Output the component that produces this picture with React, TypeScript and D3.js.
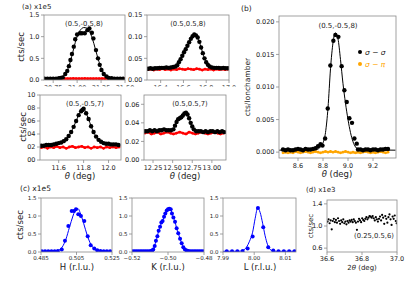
import * as d3 from 'd3';

type P = [number, number];

// ---- (a) diffraction peaks, x1e5 cts/sec ----
const a1Black: P[] = [
  [30.66, 0.03], [30.69, 0.03], [30.72, 0.03], [30.75, 0.03], [30.78, 0.03], [30.81, 0.04], [30.83, 0.05],
  [30.85, 0.06], [30.876, 0.14], [30.897, 0.21], [30.914, 0.32], [30.93, 0.46], [30.946, 0.6], [30.965, 0.77],
  [30.98, 0.94], [31.0, 1.05], [31.03, 1.08], [31.05, 1.08], [31.08, 1.08], [31.107, 1.15], [31.128, 1.19],
  [31.154, 1.09], [31.17, 0.96], [31.197, 0.69], [31.218, 0.5], [31.236, 0.35], [31.254, 0.23], [31.278, 0.14],
  [31.307, 0.08], [31.33, 0.05], [31.36, 0.04], [31.39, 0.03], [31.42, 0.03], [31.45, 0.03], [31.48, 0.03],
];
const a1Fit: P[] = [
  [30.65, 0.02], [30.78, 0.025], [30.83, 0.05], [30.86, 0.1], [30.89, 0.19], [30.92, 0.36], [30.95, 0.6],
  [30.98, 0.86], [31.01, 1.06], [31.04, 1.17], [31.07, 1.21], [31.1, 1.2], [31.13, 1.12], [31.16, 0.95],
  [31.19, 0.72], [31.22, 0.48], [31.25, 0.28], [31.28, 0.15], [31.31, 0.08], [31.35, 0.04], [31.4, 0.025], [31.5, 0.02],
];
const a1Red: P[] = [
  [30.66, 0.03], [30.69, 0.032], [30.72, 0.029], [30.75, 0.031], [30.78, 0.033], [30.81, 0.03], [30.84, 0.032],
  [30.87, 0.034], [30.9, 0.031], [30.93, 0.033], [30.96, 0.035], [30.99, 0.032], [31.02, 0.034], [31.05, 0.033],
  [31.08, 0.035], [31.11, 0.032], [31.14, 0.034], [31.17, 0.031], [31.2, 0.033], [31.23, 0.03], [31.26, 0.032],
  [31.29, 0.03], [31.32, 0.031], [31.35, 0.029], [31.38, 0.031], [31.41, 0.03], [31.44, 0.029], [31.47, 0.03], [31.49, 0.03],
];

const a2Black: P[] = [
  [16.29, 0.026], [16.31, 0.027], [16.33, 0.026], [16.35, 0.027], [16.37, 0.027], [16.39, 0.028], [16.41, 0.028],
  [16.43, 0.028], [16.45, 0.029], [16.47, 0.028], [16.49, 0.029], [16.51, 0.03], [16.53, 0.031], [16.545, 0.034],
  [16.56, 0.041], [16.575, 0.048], [16.59, 0.056], [16.605, 0.064], [16.62, 0.071], [16.635, 0.079], [16.65, 0.087],
  [16.665, 0.095], [16.68, 0.101], [16.695, 0.105], [16.71, 0.103], [16.725, 0.098], [16.74, 0.088], [16.755, 0.075],
  [16.77, 0.062], [16.785, 0.05], [16.8, 0.041], [16.815, 0.035], [16.83, 0.031], [16.85, 0.029], [16.87, 0.028],
  [16.89, 0.028], [16.91, 0.028], [16.93, 0.027], [16.95, 0.028], [16.97, 0.027], [16.99, 0.027],
];
const a2Red: P[] = [
  [16.29, 0.024], [16.315, 0.025], [16.34, 0.023], [16.365, 0.025], [16.39, 0.024], [16.415, 0.026], [16.44, 0.024],
  [16.465, 0.025], [16.49, 0.023], [16.515, 0.025], [16.54, 0.024], [16.565, 0.026], [16.59, 0.025], [16.615, 0.024],
  [16.64, 0.026], [16.665, 0.025], [16.69, 0.024], [16.715, 0.026], [16.74, 0.025], [16.765, 0.023], [16.79, 0.025],
  [16.815, 0.024], [16.84, 0.025], [16.865, 0.023], [16.89, 0.025], [16.915, 0.024], [16.94, 0.025], [16.965, 0.024], [16.99, 0.025],
];

const a3Black: P[] = [
  [11.46, 0.022], [11.48, 0.022], [11.5, 0.023], [11.52, 0.023], [11.54, 0.023], [11.56, 0.024], [11.58, 0.025],
  [11.6, 0.026], [11.62, 0.027], [11.64, 0.029], [11.66, 0.032], [11.68, 0.037], [11.7, 0.043], [11.72, 0.051],
  [11.74, 0.06], [11.76, 0.069], [11.78, 0.075], [11.79, 0.077], [11.8, 0.079], [11.82, 0.072], [11.84, 0.063],
  [11.86, 0.052], [11.88, 0.043], [11.9, 0.036], [11.92, 0.031], [11.94, 0.028], [11.96, 0.026], [11.98, 0.025],
  [12.0, 0.025], [12.02, 0.024], [12.04, 0.024], [12.06, 0.024], [12.08, 0.023],
];
const a3Red: P[] = [
  [11.46, 0.019], [11.485, 0.02], [11.51, 0.018], [11.535, 0.02], [11.56, 0.019], [11.585, 0.021], [11.61, 0.019],
  [11.635, 0.02], [11.66, 0.018], [11.685, 0.02], [11.71, 0.021], [11.735, 0.019], [11.76, 0.02], [11.785, 0.021],
  [11.81, 0.019], [11.835, 0.02], [11.86, 0.018], [11.885, 0.02], [11.91, 0.019], [11.935, 0.02], [11.96, 0.018],
  [11.985, 0.02], [12.01, 0.019], [12.035, 0.02], [12.06, 0.019], [12.085, 0.02],
];

const a4Black: P[] = [
  [12.15, 0.031], [12.18, 0.031], [12.21, 0.032], [12.24, 0.031], [12.27, 0.032], [12.3, 0.031], [12.33, 0.032],
  [12.36, 0.032], [12.39, 0.033], [12.42, 0.032], [12.45, 0.032], [12.48, 0.032], [12.51, 0.033], [12.53, 0.037],
  [12.55, 0.041], [12.57, 0.044], [12.59, 0.045], [12.61, 0.046], [12.63, 0.048], [12.65, 0.05], [12.67, 0.051],
  [12.69, 0.049], [12.71, 0.045], [12.73, 0.04], [12.75, 0.036], [12.77, 0.033], [12.8, 0.031], [12.83, 0.031],
  [12.86, 0.031], [12.89, 0.03], [12.92, 0.031], [12.95, 0.03], [12.98, 0.031], [13.01, 0.031], [13.04, 0.03],
  [13.07, 0.031], [13.1, 0.03], [13.13, 0.031], [13.16, 0.03],
];
const a4Red: P[] = [
  [12.15, 0.029], [12.19, 0.03], [12.23, 0.028], [12.27, 0.029], [12.31, 0.03], [12.35, 0.028], [12.39, 0.029],
  [12.43, 0.03], [12.47, 0.029], [12.51, 0.028], [12.55, 0.029], [12.59, 0.03], [12.63, 0.029], [12.67, 0.028],
  [12.71, 0.03], [12.75, 0.029], [12.79, 0.028], [12.83, 0.029], [12.87, 0.03], [12.91, 0.029], [12.95, 0.028],
  [12.99, 0.029], [13.03, 0.03], [13.07, 0.029], [13.11, 0.028], [13.15, 0.029],
];

// ---- (b) polarization analysis ----
const bSigma: P[] = [
  [8.48, 0.0004], [8.5, 0.0003], [8.52, 0.0004], [8.54, 0.0003], [8.56, 0.0003], [8.58, 0.0004], [8.6, 0.0005],
  [8.62, 0.0004], [8.64, 0.0003], [8.66, 0.0005], [8.68, 0.0004], [8.7, 0.0004], [8.72, 0.0005], [8.74, 0.0006],
  [8.76, 0.0009], [8.78, 0.0012], [8.796, 0.001], [8.817, 0.0021], [8.838, 0.0067], [8.859, 0.0133], [8.883, 0.0171],
  [8.899, 0.018], [8.923, 0.0177], [8.949, 0.0132], [8.971, 0.0095], [8.99, 0.0077], [9.011, 0.0052], [9.032, 0.0045],
  [9.051, 0.0021], [9.07, 0.0013], [9.08, 0.0004], [9.1, 0.0004], [9.12, 0.0003], [9.14, 0.0004], [9.16, 0.0004],
  [9.18, 0.0003], [9.2, 0.0004], [9.22, 0.0004], [9.24, 0.0003], [9.26, 0.0004], [9.28, 0.0004], [9.3, 0.0005], [9.32, 0.0005],
];
const bFit: P[] = [
  [8.45, 0.0003], [8.7, 0.0003], [8.75, 0.0004], [8.78, 0.0008], [8.8, 0.0014], [8.82, 0.003], [8.84, 0.0068],
  [8.86, 0.0128], [8.88, 0.0168], [8.9, 0.0183], [8.92, 0.0174], [8.94, 0.0142], [8.96, 0.0105], [8.98, 0.0075],
  [9.0, 0.005], [9.02, 0.003], [9.04, 0.0016], [9.06, 0.0008], [9.09, 0.0004], [9.38, 0.0003],
];
const bPi: P[] = [
  [8.48, -0.0001], [8.5, 0], [8.52, -0.0001], [8.54, 0], [8.56, -0.0001], [8.58, 0.0001], [8.6, 0], [8.62, -0.0001],
  [8.64, 0], [8.66, 0.0001], [8.68, 0], [8.7, -0.0001], [8.72, 0], [8.74, 0.0001], [8.76, 0], [8.78, -0.0001],
  [8.8, 0], [8.82, 0.0001], [8.84, 0], [8.86, 0.0001], [8.88, 0], [8.9, 0.0001], [8.92, 0], [8.94, -0.0001],
  [8.96, 0], [8.98, 0.0001], [9.0, 0], [9.02, -0.0001], [9.04, 0], [9.06, -0.0001], [9.08, 0], [9.1, -0.0001],
  [9.12, 0], [9.14, 0.0001], [9.16, 0], [9.18, -0.0001], [9.2, 0], [9.22, -0.0001], [9.24, 0], [9.26, 0.0001],
  [9.28, 0], [9.3, -0.0001], [9.32, 0],
];

// ---- (c) H, K, L scans, x1e5 ----
const cH: P[] = [
  [0.4855, 0.02], [0.4873, 0.02], [0.4891, 0.02], [0.4909, 0.02], [0.4927, 0.02], [0.4945, 0.03], [0.4967, 0.07],
  [0.4985, 0.31], [0.5004, 0.72], [0.5023, 1.14], [0.5036, 1.14], [0.5047, 1.19], [0.506, 1.05], [0.5075, 1.0],
  [0.5094, 0.86], [0.5113, 0.44], [0.513, 0.19], [0.515, 0.1], [0.5167, 0.05], [0.5185, 0.03], [0.5203, 0.02],
  [0.5221, 0.02], [0.5239, 0.02],
];
const cHFit: P[] = [
  [0.485, 0.02], [0.493, 0.02], [0.495, 0.05], [0.497, 0.14], [0.499, 0.35], [0.501, 0.68], [0.503, 1.0],
  [0.504, 1.13], [0.505, 1.21], [0.506, 1.2], [0.507, 1.1], [0.509, 0.8], [0.511, 0.47], [0.513, 0.22],
  [0.515, 0.09], [0.517, 0.04], [0.519, 0.02], [0.525, 0.02],
];
const cK: P[] = [
  [-0.5195, 0.02], [-0.5185, 0.02], [-0.5175, 0.02], [-0.5165, 0.02], [-0.5155, 0.02], [-0.5145, 0.02],
  [-0.5135, 0.02], [-0.5125, 0.02], [-0.5115, 0.02], [-0.5105, 0.02], [-0.5095, 0.03], [-0.5088, 0.04],
  [-0.5082, 0.07], [-0.5074, 0.17], [-0.5067, 0.31], [-0.5059, 0.44], [-0.5052, 0.59], [-0.5044, 0.7],
  [-0.5037, 0.82], [-0.503, 0.86], [-0.5022, 0.98], [-0.5015, 1.07], [-0.5007, 1.15], [-0.5, 1.19],
  [-0.4993, 1.2], [-0.4985, 1.19], [-0.4978, 1.07], [-0.497, 0.96], [-0.4961, 0.84], [-0.4952, 0.66],
  [-0.4943, 0.52], [-0.4933, 0.37], [-0.4924, 0.24], [-0.4915, 0.13], [-0.4906, 0.07], [-0.4896, 0.04],
  [-0.4886, 0.03], [-0.4875, 0.02], [-0.4865, 0.02], [-0.4855, 0.02], [-0.4845, 0.02], [-0.4835, 0.02],
  [-0.4825, 0.02], [-0.4815, 0.02], [-0.4805, 0.02],
];
const cL: P[] = [
  [7.9912, 0.02], [7.9929, 0.02], [7.9946, 0.02], [7.9963, 0.03], [7.9979, 0.1], [7.9995, 0.43], [8.0012, 1.22],
  [8.0029, 0.69], [8.0045, 0.13], [8.0061, 0.04], [8.0078, 0.02], [8.0095, 0.02], [8.0112, 0.02], [8.0129, 0.02],
];
const cLFit: P[] = [
  [7.99, 0.02], [7.995, 0.02], [7.9965, 0.05], [7.9975, 0.13], [7.9985, 0.3], [7.9995, 0.55], [8.0003, 0.93],
  [8.0011, 1.22], [8.0019, 1.1], [8.0027, 0.8], [8.0035, 0.45], [8.0043, 0.2], [8.0051, 0.07], [8.006, 0.03],
  [8.007, 0.02], [8.0134, 0.02],
];

// ---- (d) 2theta scan, x1e3 ----
const dScan: P[] = [
  [36.603, 1.08], [36.609, 1.12], [36.615, 1.05], [36.621, 1.1], [36.627, 0.94], [36.633, 1.09], [36.639, 1.13],
  [36.645, 1.07], [36.651, 1.11], [36.657, 1.06], [36.663, 1.14], [36.669, 1.09], [36.675, 1.04], [36.681, 1.1],
  [36.687, 1.07], [36.693, 1.12], [36.699, 1.05], [36.705, 1.08], [36.711, 1.03], [36.717, 1.09], [36.723, 1.06],
  [36.729, 1.1], [36.735, 1.08], [36.741, 1.11], [36.747, 1.07], [36.753, 1.12], [36.759, 1.09], [36.765, 1.06],
  [36.771, 0.93], [36.777, 1.08], [36.783, 1.13], [36.789, 1.1], [36.795, 1.07], [36.801, 1.14], [36.807, 1.11],
  [36.813, 1.09], [36.819, 1.13], [36.825, 1.16], [36.831, 1.12], [36.837, 1.15], [36.843, 1.18], [36.849, 1.17],
  [36.855, 1.15], [36.861, 1.18], [36.867, 1.14], [36.873, 1.1], [36.879, 1.16], [36.885, 1.12], [36.891, 1.08],
  [36.897, 1.13], [36.903, 1.17], [36.909, 1.1], [36.915, 1.2], [36.921, 1.15], [36.927, 1.04], [36.933, 1.18],
  [36.939, 1.13], [36.945, 1.06], [36.951, 1.16], [36.957, 1.21], [36.963, 1.12], [36.969, 1.02], [36.975, 1.17],
  [36.981, 1.13], [36.987, 1.19], [36.993, 1.09], [36.998, 1.05],
];

const FONT = 'DejaVu Sans, sans-serif';
const SPINE = '#8a8a8a';
const TXT = '#222';
const RED = '#ff0000';
const ORANGE = '#ffa500';
const BLUE = '#0000ff';

interface Dots { pts: P[]; color: string; r: number }
interface Line { pts: P[]; color: string; lw: number; curve?: d3.CurveFactory }

interface PanelProps {
  box: [number, number, number, number];
  xd: [number, number];
  yd: [number, number];
  xt: number[];
  xf: (v: number) => string;
  yt: number[];
  yl: string[];
  fs: number;
  xOff?: number;
  labelClip?: number;
  lines: Line[];
  dots: Dots[];
}

const Panel = ({ box, xd, yd, xt, xf, yt, yl, fs, xOff = 8, labelClip, lines, dots }: PanelProps) => {
  const [L, T, W, H] = box;
  const x = d3.scaleLinear().domain(xd).range([L, L + W]);
  const y = d3.scaleLinear().domain(yd).range([T + H, T]);
  const id = `clip${L}_${T}`;
  const lid = `lclip${L}_${T}`;
  return (
    <g>
      <defs>
        <clipPath id={id}><rect x={L} y={T} width={W} height={H} /></clipPath>
        {labelClip && <clipPath id={lid}><rect x={L - 30} y={T} width={W + 60} height={labelClip - T} /></clipPath>}
      </defs>
      <rect x={L} y={T} width={W} height={H} fill="white" />
      <g clipPath={`url(#${id})`}>
        {lines.map((s, i) => {
          const gen = d3.line<P>().x(d => x(d[0])).y(d => y(d[1])).curve(s.curve ?? d3.curveMonotoneX);
          return <path key={i} d={gen(s.pts) ?? ''} fill="none" stroke={s.color} strokeWidth={s.lw} />;
        })}
        {dots.map((s, i) => (
          <g key={i} fill={s.color}>
            {s.pts.map((p, j) => <circle key={j} cx={x(p[0])} cy={y(p[1])} r={s.r} />)}
          </g>
        ))}
      </g>
      <rect x={L} y={T} width={W} height={H} fill="none" stroke={SPINE} strokeWidth={0.8} />
      {yt.map((v, i) => (
        <g key={i}>
          <line x1={L - 3} x2={L} y1={y(v)} y2={y(v)} stroke={SPINE} strokeWidth={0.8} />
          <text x={L - 4.5} y={y(v)} dy="0.35em" textAnchor="end" fontSize={fs} fill={TXT} fontFamily={FONT}>{yl[i]}</text>
        </g>
      ))}
      <g clipPath={labelClip ? `url(#${lid})` : undefined}>
        {xt.map((v, i) => (
          <g key={i}>
            <line x1={x(v)} x2={x(v)} y1={T + H} y2={T + H + 3} stroke={SPINE} strokeWidth={0.8} />
            <text x={x(v)} y={T + H + xOff} dy="0.35em" textAnchor="middle" fontSize={fs} fill={TXT} fontFamily={FONT}>{xf(v)}</text>
          </g>
        ))}
      </g>
    </g>
  );
};

const T = ({ x, y, s, children, anchor = 'middle', rot, color = TXT }: any) => (
  <text x={x} y={y} fontSize={s} fontFamily={FONT} fill={color} textAnchor={anchor}
    transform={rot ? `rotate(${rot} ${x} ${y})` : undefined}>{children}</text>
);

const f1 = d3.format('.1f');
const f2 = d3.format('.2f');
const f3 = d3.format('.3f');
const theta = <tspan fontStyle="italic">θ</tspan>;
const sig = <tspan fontStyle="italic">σ</tspan>;
const pi = <tspan fontStyle="italic">π</tspan>;

export default function App() {
  return (
    <svg width={415} height={286} style={{ position: 'absolute', left: 0, top: 0, background: 'white' }}>
      {/* (a) */}
      <T x={22} y={9} s={7} anchor="start">(a) x1e5</T>
      <T x={24} y={47} s={8.5} rot={-90}>cts/sec</T>
      <T x={26} y={127} s={8.5} rot={-90}>cts/sec</T>
      <Panel box={[44, 15, 81, 65]} xd={[30.654, 31.5]} yd={[0, 1.5]} xt={[30.75, 31, 31.25, 31.5]} xf={f2}
        yt={[0, 0.5, 1, 1.5]} yl={[0, 0.5, 1, 1.5].map(f1)} fs={6.5} labelClip={86.5}
        lines={[{ pts: a1Red, color: RED, lw: 2.2 }, { pts: a1Fit, color: '#000', lw: 1 }]}
        dots={[{ pts: a1Red, color: RED, r: 1.4 }, { pts: a1Black, color: '#000', r: 2.2 }]} />
      <Panel box={[147, 15, 82, 65]} xd={[16.28, 17.0]} yd={[0, 0.15]} xt={[16.4, 16.6, 16.8, 17.0]} xf={f1}
        yt={[0, 0.05, 0.1, 0.15]} yl={[0, 0.05, 0.1, 0.15].map(f2)} fs={6.5} labelClip={86.5}
        lines={[{ pts: a2Red, color: RED, lw: 2.2 }, { pts: a2Black, color: '#000', lw: 1 }]}
        dots={[{ pts: a2Red, color: RED, r: 1.4 }, { pts: a2Black, color: '#000', r: 2.2 }]} />
      <Panel box={[40, 95, 81, 65]} xd={[11.45, 12.1]} yd={[0, 0.1]} xt={[11.6, 11.8, 12.0]} xf={f1}
        yt={[0, 0.02, 0.04, 0.06, 0.08, 0.1]} yl={['00', '02', '04', '06', '08', '10']} fs={6.5}
        lines={[{ pts: a3Red, color: RED, lw: 2.2 }, { pts: a3Black, color: '#000', lw: 1 }]}
        dots={[{ pts: a3Red, color: RED, r: 1.4 }, { pts: a3Black, color: '#000', r: 2.2 }]} />
      <Panel box={[144, 95, 82, 65]} xd={[12.135, 13.18]} yd={[0, 0.07]} xt={[12.25, 12.5, 12.75, 13]} xf={f2}
        yt={[0, 0.02, 0.04, 0.06]} yl={[0, 0.02, 0.04, 0.06].map(f2)} fs={6.5}
        lines={[{ pts: a4Red, color: RED, lw: 2.2 }, { pts: a4Black, color: '#000', lw: 1 }]}
        dots={[{ pts: a4Red, color: RED, r: 1.4 }, { pts: a4Black, color: '#000', r: 2.2 }]} />
      <T x={84} y={26} s={6.8}>(0.5,-0.5,8)</T>
      <T x={188} y={26} s={6.8}>(0.5,0.5,8)</T>
      <T x={85} y={106} s={6.8}>(0.5,-0.5,7)</T>
      <T x={190} y={106} s={6.8}>(0.5,0.5,7)</T>
      <T x={80} y={179} s={8.5}>{theta} (deg)</T>
      <T x={185} y={179} s={8.5}>{theta} (deg)</T>

      {/* (b) */}
      <T x={241} y={11} s={7.5} anchor="start">(b)</T>
      <T x={250} y={87} s={7.5} rot={-90}>cts/Ionchamber</T>
      <Panel box={[279, 16, 117, 142]} xd={[8.448, 9.384]} yd={[-0.0009, 0.0209]} xt={[8.6, 8.8, 9.0, 9.2]} xf={f1}
        yt={[0, 0.005, 0.01, 0.015, 0.02]} yl={[0, 0.005, 0.01, 0.015, 0.02].map(f3)} fs={6.5}
        lines={[{ pts: bPi, color: ORANGE, lw: 2 }, { pts: bFit, color: '#000', lw: 1 }]}
        dots={[{ pts: bPi, color: ORANGE, r: 1.4 }, { pts: bSigma, color: '#000', r: 2.2 }]} />
      <T x={338} y={28} s={7}>(0.5,-0.5,8)</T>
      <circle cx={360} cy={52} r={2} fill="#000" />
      <T x={365} y={55} s={7.5} anchor="start">{sig} − {sig}</T>
      <circle cx={360} cy={64} r={2} fill={ORANGE} />
      <T x={365} y={67} s={7.5} anchor="start" color={ORANGE}>{sig} − {pi}</T>
      <T x={337} y={177} s={8.5}>{theta} (deg)</T>

      {/* (c) */}
      <T x={20} y={191} s={7.5} anchor="start">(c) x1e5</T>
      <T x={23} y={225} s={8.5} rot={-90}>cts/sec</T>
      <Panel box={[41, 198, 71, 54]} xd={[0.485, 0.525]} yd={[0, 1.5]} xt={[0.485, 0.505, 0.525]} xf={f3}
        yt={[0, 0.5, 1, 1.5]} yl={[0, 0.5, 1, 1.5].map(f1)} fs={5.5} xOff={6.5}
        lines={[{ pts: cHFit, color: BLUE, lw: 1 }]}
        dots={[{ pts: cH, color: BLUE, r: 2 }]} />
      <Panel box={[132, 198, 72, 54]} xd={[-0.52, -0.48]} yd={[0, 1.5]} xt={[-0.52, -0.5, -0.48]} xf={f2}
        yt={[0, 0.5, 1, 1.5]} yl={[0, 0.5, 1, 1.5].map(f1)} fs={5.5} xOff={6.5}
        lines={[{ pts: cK, color: BLUE, lw: 1 }]}
        dots={[{ pts: cK, color: BLUE, r: 2 }]} />
      <Panel box={[223, 198, 73, 54]} xd={[7.99, 8.0134]} yd={[0, 1.5]} xt={[7.99, 8.0, 8.01]} xf={f2}
        yt={[0, 0.5, 1, 1.5]} yl={[0, 0.5, 1, 1.5].map(f1)} fs={5.5} xOff={6.5}
        lines={[{ pts: cLFit, color: BLUE, lw: 1 }]}
        dots={[{ pts: cL, color: BLUE, r: 2 }]} />
      <T x={77} y={270} s={8.5}>H (r.l.u.)</T>
      <T x={168} y={270} s={8.5}>K (r.l.u.)</T>
      <T x={260} y={270} s={8.5}>L (r.l.u.)</T>

      {/* (d) */}
      <T x={306} y={192} s={7} anchor="start">(d) x1e3</T>
      <T x={313} y={226} s={7} rot={-90}>cts/sec</T>
      <Panel box={[327, 200, 70, 52]} xd={[36.6, 37.0]} yd={[0.53, 1.47]} xt={[36.6, 36.8, 37.0]} xf={f1}
        yt={[0.6, 1.0, 1.4]} yl={[0.6, 1.0, 1.4].map(f1)} fs={6.5} xOff={7}
        lines={[]}
        dots={[{ pts: dScan, color: '#000', r: 1.1 }]} />
      <T x={374} y={238} s={6.8}>(0.25,0.5,6)</T>
      <T x={362} y={270} s={7}>2{theta} (deg)</T>
    </svg>
  );
}
